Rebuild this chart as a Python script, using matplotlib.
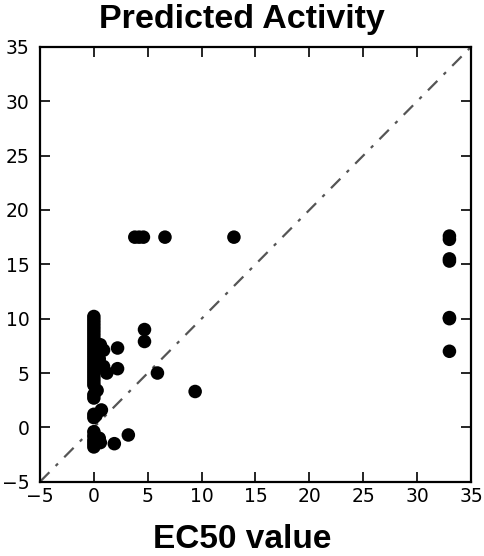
import matplotlib
matplotlib.use("Agg")
import matplotlib.pyplot as plt

# EC50 (x) vs predicted activity (y)
col_x = [0.0] * 31
col_y = [10.2, 9.9, 9.6, 9.3, 9.0, 8.7, 8.4, 8.1, 7.8, 7.5, 7.2, 6.9, 6.6,
         6.3, 6.0, 5.7, 5.4, 5.1, 4.8, 4.5, 4.2, 3.9, 3.0, 2.7, 1.2, 0.9,
         -0.4, -0.8, -1.2, -1.5, -1.8]
near_x = [0.6, 0.9, 0.5, 0.9, 1.2, 0.3, 0.7, 0.2, 0.5, 0.6, 2.2, 2.2, 1.9, 3.2]
near_y = [7.6, 7.1, 6.3, 5.6, 5.0, 3.4, 1.6, 1.1, -1.0, -1.4, 7.3, 5.4, -1.5, -0.7]
mid_x = [4.7, 4.7, 5.9, 9.4, 3.8, 4.2, 4.6, 6.6, 13.0]
mid_y = [9.0, 7.9, 5.0, 3.3, 17.5, 17.5, 17.5, 17.5, 17.5]
far_x = [33.0, 33.0, 33.0, 33.0, 33.0, 33.0, 33.0]
far_y = [17.6, 17.3, 15.5, 15.3, 10.1, 10.0, 7.0]

x_ticks = [-5, 0, 5, 10, 15, 20, 25, 30, 35]
y_ticks = [-5, 0, 5, 10, 15, 20, 25, 30, 35]

fig = plt.figure(figsize=(4.84, 5.56), dpi=100)
ax = fig.add_axes([0.0826, 0.1336, 0.8905, 0.782])

xs = col_x + near_x + mid_x + far_x
ys = col_y + near_y + mid_y + far_y
ax.scatter(xs, ys, s=95, c="black", edgecolors="none", zorder=3)
ax.plot([-5, 35], [-5, 35], linestyle=(0, (6, 4, 1.5, 4)), color="#555555",
        linewidth=1.6, zorder=2)

ax.set_xlim(-5, 35)
ax.set_ylim(-5, 35)
ax.set_xticks(x_ticks)
ax.set_yticks(y_ticks)
ax.tick_params(direction="in", length=7, width=1.2, top=True, right=True,
               labelsize=13.5)
ax.tick_params(axis="x", pad=4)
ax.tick_params(axis="y", pad=7.5)
for sp in ax.spines.values():
    sp.set_linewidth(1.6)

fig.text(0.5, 1 - 28 / 556, "Predicted Activity", ha="center", va="baseline",
         fontsize=24.5, fontweight="bold", family="Liberation Sans")
fig.text(0.5, 1 - 548 / 556, "EC50 value", ha="center", va="baseline",
         fontsize=24, fontweight="bold", family="Liberation Sans")

fig.savefig("out.png", dpi=100)
